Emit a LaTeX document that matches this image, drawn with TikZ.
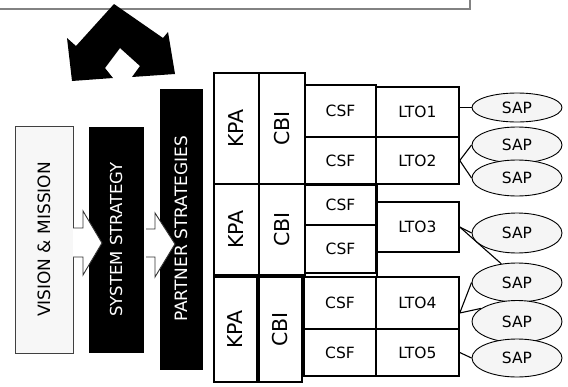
\documentclass[tikz,border=0pt]{standalone}
\usepackage{fontspec}
\setmainfont{DejaVu Sans}
\usetikzlibrary{shapes.geometric}
\definecolor{framegray}{RGB}{130,130,130}
\definecolor{sapfill}{RGB}{245,245,245}
\definecolor{visionfill}{RGB}{247,247,247}
\newcommand{\smallfont}{\fontsize{15.5}{17}\selectfont}
\newcommand{\bigfont}{\fontsize{20.5}{22}\selectfont}
\newcommand{\stratfont}{\fontsize{17}{19}\selectfont}
\tikzset{
  cell/.style={draw, line width=1.5pt, inner sep=0pt},
  upright/.style={cell, font=\smallfont},
  sideways/.style={cell, font=\bigfont, rotate=90},
  strat/.style={draw, line width=1pt, inner sep=0pt, rotate=90, font=\stratfont},
  sap/.style={ellipse, draw, fill=sapfill, line width=0.9pt, inner sep=0pt,
    minimum width=90, font=\smallfont},
  link/.style={line width=1.1pt},
  hollow/.style={draw=black!80, fill=white, line width=0.9pt}
}

\begin{document}
\begin{tikzpicture}[x=1pt,y=-1pt]
    \useasboundingbox (0,0) rectangle (568,386);

    % Frame above
    \draw[framegray, line width=1.6pt] (0,9) -| (470,0);

    % Double arrow
    \fill (114,4) -- (163,38) -- (168,32) -- (175,74) -- (132,77) -- (140,66)
        -- (120,48) -- (105,68) -- (113,78) -- (72,81) -- (67,38) -- (76,46) -- cycle;

    % Strategy columns
    \node[strat, draw=black!75, fill=visionfill, minimum width=227, minimum height=58]
        (vision) at (44,239.5) {VISION \& MISSION};
    \node[strat, fill=black, text=white, font=\fontsize{16.5}{18}\selectfont,
        minimum width=225, minimum height=54] (system) at (116,239.5) {SYSTEM STRATEGY};
    \node[strat, fill=black, text=white, minimum width=280, minimum height=42]
        (partner) at (181,229) {PARTNER STRATEGIES};

    % Block 1
    \node[sideways, minimum width=111, minimum height=45] (kpa1) at (236.5,128.5) {KPA};
    \node[sideways, minimum width=111, minimum height=46] (cbi1) at (282,128.5) {CBI};
    \node[upright, minimum width=71, minimum height=52] (csf1) at (340.5,111) {CSF};
    \node[upright, minimum width=71, minimum height=47] (csf2) at (340.5,160.5) {CSF};
    \node[upright, minimum width=83, minimum height=50] (lto1) at (417.5,112) {LTO1};
    \node[upright, minimum width=83, minimum height=47] (lto2) at (417.5,160.5) {LTO2};

    % Block 2
    \node[sideways, minimum width=91, minimum height=45] (kpa2) at (236.5,229.5) {KPA};
    \node[sideways, minimum width=91, minimum height=46] (cbi2) at (282,229.5) {CBI};
    \node[upright, minimum width=71, minimum height=40] (csf3) at (340.5,205) {CSF};
    \node[upright, minimum width=71, minimum height=48] (csf4) at (340.5,249) {CSF};
    \node[upright, minimum width=83, minimum height=50] (lto3) at (417.5,227) {LTO3};

    % Block 3
    \node[sideways, minimum width=105, minimum height=43] (kpa3) at (235.5,329.5) {KPA};
    \node[sideways, minimum width=105, minimum height=43] (cbi3) at (280.5,329.5) {CBI};
    \node[upright, minimum width=72, minimum height=52] (csf5) at (340,303) {CSF};
    \node[upright, minimum width=72, minimum height=47] (csf6) at (340,352.5) {CSF};
    \node[upright, minimum width=83, minimum height=52] (lto4) at (417.5,303) {LTO4};
    \node[upright, minimum width=83, minimum height=47] (lto5) at (417.5,352.5) {LTO5};
    \draw[line width=1.5pt] (csf2.south east) -- (csf5.north east);

    % Hollow arrows
    \draw[hollow] (73,228) -- (83,228) -- (83,211) -- (102,243) -- (83,275)
        -- (83,257) -- (73,257);
    \draw[hollow] (146,229) -- (155,229) -- (155,213) -- (175,244) -- (155,277)
        -- (155,257) -- (146,257);

    % SAP ellipses
    \node[sap, minimum height=29] (sap1) at (517,107.5) {SAP};
    \node[sap, minimum height=36] (sap2a) at (517,145) {SAP};
    \node[sap, minimum height=36] (sap2b) at (517,178) {SAP};
    \node[sap, minimum height=40] (sap3) at (517,233) {SAP};
    \node[sap, minimum height=39] (sap4a) at (517,282.5) {SAP};
    \node[sap, minimum height=42] (sap4b) at (517,321.5) {SAP};
    \node[sap, minimum height=38] (sap5) at (517,358) {SAP};

    % Links
    \draw[link] (lto1.east |- sap1.west) -- (sap1.west);
    \draw[link] (sap2a.west) -- (lto2.east) -- (sap2b.west);
    \draw[link] (lto3.east) -- (sap3.west);
    \draw[link] (lto3.east) -- (sap4a.130);
    \draw[link] (sap4a.west) -- ([yshift=-10pt]lto4.east) -- (sap4b.160);
    \draw[link] (lto5.east) -- (sap5.west);
\end{tikzpicture}
\end{document}
